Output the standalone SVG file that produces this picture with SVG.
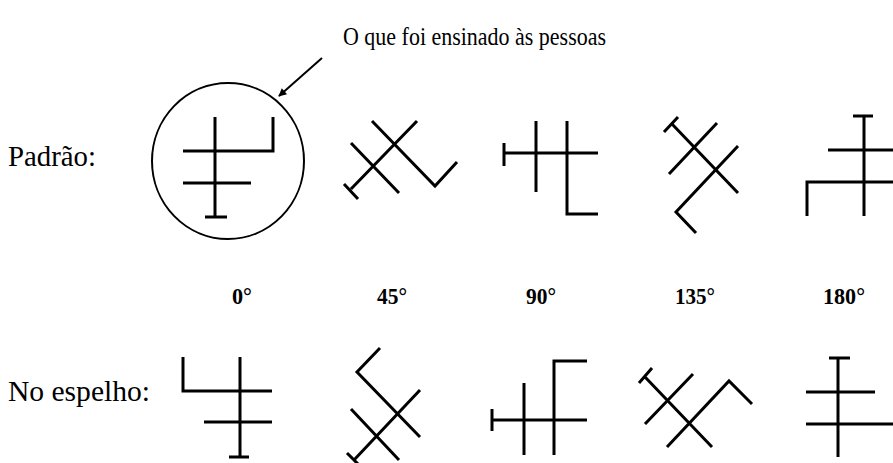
<svg xmlns="http://www.w3.org/2000/svg" width="893" height="463" viewBox="0 0 893 463">
<style>
.s{fill:none;stroke:#000;stroke-width:3;stroke-linecap:butt;stroke-linejoin:miter}
.lbl{font-family:"Liberation Serif",serif;font-size:29px;fill:#000}
.ttl{font-family:"Liberation Serif",serif;font-size:26px;fill:#000}
.deg{font-family:"Liberation Serif",serif;font-size:23px;font-weight:bold;fill:#000}
</style>
<defs>
<marker id="ah" viewBox="0 0 10 10" refX="9" refY="5" markerWidth="14" markerHeight="8" markerUnits="userSpaceOnUse" orient="auto">
<path d="M0,0 L10,5 L0,10 z" fill="#000"/>
</marker>
</defs>
<rect width="893" height="463" fill="#fff"/>
<g id="title"><text class="ttl" x="343" y="45" textLength="263" lengthAdjust="spacingAndGlyphs">O que foi ensinado às pessoas</text></g>
<g id="label-padrao"><text class="lbl" x="8" y="166" textLength="88" lengthAdjust="spacingAndGlyphs">Padrão:</text></g>
<g id="label-espelho"><text class="lbl" x="8" y="401" textLength="142" lengthAdjust="spacingAndGlyphs">No espelho:</text></g>
<g id="degrees">
<text class="deg" x="232" y="304" textLength="20" lengthAdjust="spacingAndGlyphs">0°</text>
<text class="deg" x="377" y="304" textLength="30" lengthAdjust="spacingAndGlyphs">45°</text>
<text class="deg" x="526" y="304" textLength="30" lengthAdjust="spacingAndGlyphs">90°</text>
<text class="deg" x="675" y="304" textLength="40" lengthAdjust="spacingAndGlyphs">135°</text>
<text class="deg" x="823" y="304" textLength="42" lengthAdjust="spacingAndGlyphs">180°</text>
</g>
<g id="p0">
<ellipse cx="228" cy="161" rx="76" ry="78" fill="none" stroke="#000" stroke-width="2"/>
<path class="s" d="M215,117 V217 M205,217 H227 M183,151 H273 V117 M183,183 H251"/>
</g>
<g id="p45">
<path class="s" d="M417,121 L351,189 M344,184 L358,199 M372,121 L435,186 L457,162 M351,143 L399,193"/>
</g>
<g id="p90">
<path class="s" d="M504,153 H598 M504,143 V166 M536,121 V192 M567,121 V214 H598"/>
</g>
<g id="p135">
<path class="s" d="M664,132 L678,117 M672,124 L738,193 M717,123 L669,174 M738,146 L676,212 L696,233"/>
</g>
<g id="p180">
<path class="s" d="M853,116 H873 M864,116 V216 M828,150 H893 M807,216 V182 H893"/>
</g>
<g id="m0">
<path class="s" d="M183,357 V391 H272 M240,357 V457 M229,457 H249 M204,422 H272"/>
</g>
<g id="m45">
<path class="s" d="M380,348 L357,372 L420,437 M420,390 L354,460 M347,453 L361,467 M351,409 L399,460"/>
</g>
<g id="m90">
<path class="s" d="M492,420 H587 M492,409 V431 M524,383 V455 M554,455 V361 H587"/>
</g>
<g id="m135">
<path class="s" d="M639,383 L652,368 M645,377 L712,447 M693,374 L645,424 M667,447 L729,381 L752,404"/>
</g>
<g id="m180">
<path class="s" d="M829,358 H850 M838,358 V457 M806,392 H875 M806,424 H893"/>
</g>
<g id="connectors">
<line x1="322" y1="58" x2="279" y2="96" stroke="#000" stroke-width="2" marker-end="url(#ah)"/>
</g>
</svg>
